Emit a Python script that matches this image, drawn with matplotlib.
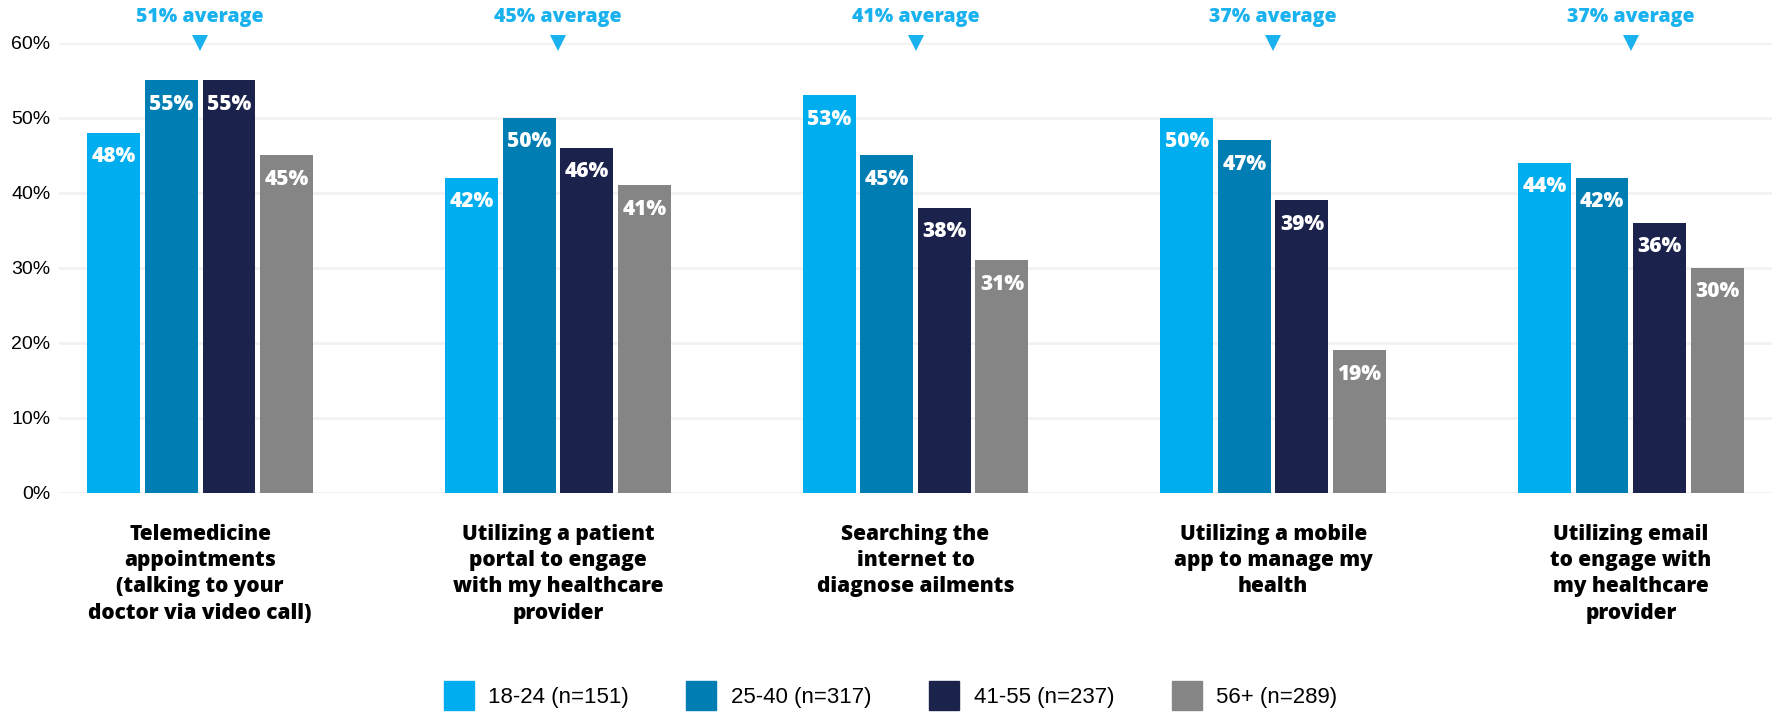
import matplotlib.pyplot as plt
import numpy as np
from matplotlib.patches import Patch

# survey results, share of respondents per age group
categories = [
    "Telemedicine\nappointments\n(talking to your\ndoctor via video call)",
    "Utilizing a patient\nportal to engage\nwith my healthcare\nprovider",
    "Searching the\ninternet to\ndiagnose ailments",
    "Utilizing a mobile\napp to manage my\nhealth",
    "Utilizing email\nto engage with\nmy healthcare\nprovider",
]
age_groups = ["18-24 (n=151)", "25-40 (n=317)", "41-55 (n=237)", "56+ (n=289)"]
age_18_24 = [48, 42, 53, 50, 44]
age_25_40 = [55, 50, 45, 47, 42]
age_41_55 = [55, 46, 38, 39, 36]
age_56_up = [45, 41, 31, 19, 30]
averages = [51, 45, 41, 37, 37]
yticks = [0, 10, 20, 30, 40, 50, 60]

colors = ["#00AEEF", "#007DB3", "#1B224C", "#858585"]
series = [age_18_24, age_25_40, age_41_55, age_56_up]

bold_font = ["Open Sans", "DejaVu Sans"]
plain_font = ["Liberation Sans", "DejaVu Sans"]

fig = plt.figure(figsize=(17.81, 7.2), dpi=100)
ax = fig.add_axes([0.0331, 0.3153, 0.9619, 0.625])

x = np.arange(len(categories))
width = 0.148
pitch = 0.161
offsets = (np.arange(4) - 1.5) * pitch

for vals, col, off in zip(series, colors, offsets):
    bars = ax.bar(x + off, vals, width=width, color=col, zorder=2)
    for b, v in zip(bars, vals):
        ax.annotate(f"{v}%", (b.get_x() + b.get_width() / 2, v),
                    xytext=(0, -17), textcoords="offset points",
                    ha="center", va="center", color="white",
                    fontsize=15, fontweight=800, family=bold_font)

# group averages above each cluster
for xi, avg in zip(x, averages):
    ax.annotate(f"{avg}% average", (xi, 60), xytext=(0, 19),
                textcoords="offset points", ha="center", va="center",
                color="#1AB2EE", fontsize=14, fontweight=800,
                family=bold_font, annotation_clip=False)
    ax.plot([xi], [60], marker="v", markersize=11, color="#1AB2EE",
            markeredgewidth=0, clip_on=False, zorder=3)

ax.set_ylim(0, 60)
ax.set_xlim(-0.395, 4.395)
ax.set_yticks(yticks)
ax.set_yticklabels([f"{t}%" for t in yticks], family=plain_font, fontsize=14)
ax.yaxis.grid(True, color="#F2F2F2", linewidth=2)
ax.set_axisbelow(True)
ax.tick_params(axis="y", length=0, pad=6)
ax.tick_params(axis="x", length=0, pad=22)
ax.set_xticks(x)
ax.set_xticklabels(categories, fontsize=15, fontweight=800,
                   family=bold_font, linespacing=1.34, va="top")
for s in ax.spines.values():
    s.set_visible(False)

handles = [Patch(color=c) for c in colors]
fig.legend(handles, age_groups, loc="center", bbox_to_anchor=(0.5, 0.034),
           ncol=4, frameon=False, handlelength=1.35, handleheight=1.6,
           columnspacing=2.6, handletextpad=0.65,
           prop={"family": plain_font, "size": 16})

fig.savefig("out.png", dpi=100)
